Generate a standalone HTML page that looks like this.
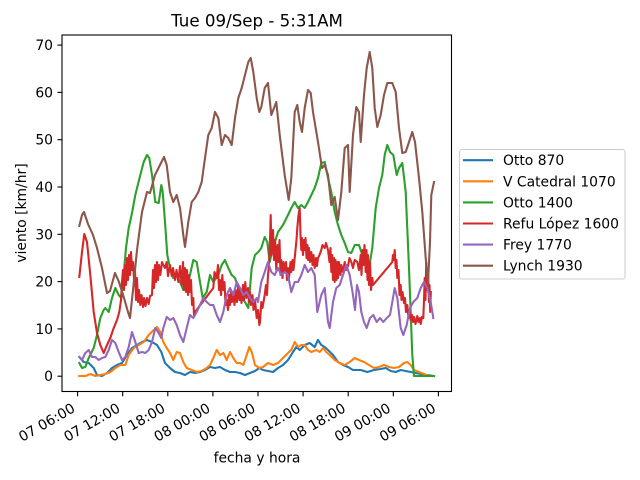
<!DOCTYPE html>
<html><head><meta charset="utf-8"><style>
html,body{margin:0;padding:0;background:#fff;}
svg{display:block;font-family:"DejaVu Sans","Liberation Sans",sans-serif;}
</style></head><body>
<svg width="640" height="480" viewBox="0 0 640 480" xmlns="http://www.w3.org/2000/svg">
<rect width="640" height="480" fill="#fff"/>
<defs><clipPath id="c"><rect x="62" y="35" width="390" height="357"/></clipPath></defs>
<g clip-path="url(#c)" fill="none" stroke-width="2.1" stroke-linejoin="round" stroke-linecap="square">
<polyline stroke="#1f77b4" points="79.3,357 83.7,362 88.7,363 93.7,368 97,375 102,376 107,373 112,368 117,365 122,363 127,355 132,348 137,345 142,342 147,340 152,342 157,345 161.3,352 165,363 170,368 175,372 180,373 185,375 190,372 195,373 200,372 205,370 210,367 215,368 220,367 225,370 230,372 235,372 240,373 245,375 250,373 255,371 259.3,368 263,370 268,371 273,372 278,368 283,365 288,360 293,352 296.3,347 299.7,350 304.7,345 309.7,343 314.7,347 318,340 321.3,345 324.7,347 328,350 333,355 338,362 343,365 348,367 353,370 360.7,370 367.3,372 374,370 380.7,369 385.7,368 390.7,371 395.7,372 400.7,370 405.7,371 410.7,372 415.7,373 420.7,374 427.3,375 434,376"/>
<polyline stroke="#ff7f0e" points="79.3,376 85.3,376 90.3,374 95.3,376 100.3,375 105.3,374 110.3,372 115.3,368 120.3,365 125.3,365 128.7,355 133.7,348 138.7,345 143.7,342 148.7,335 153.7,330 157,327 160.3,332 163.3,342 166.7,348 170,353 173.3,360 176.7,352 180,353 183.3,362 186.7,368 191.7,370 196.7,372 201.7,371 206.7,368 210,365 213.3,358 216.7,350 220,355 223.3,353 226.7,360 230,352 233.3,358 236.7,363 240,363 243.3,365 246.7,355 249.3,347 251.7,352 255,365 259.3,368 263,367 268,363 273,365 278,363 283,358 288,353 291.3,350 294.7,342 298,347 301.3,345 304.7,345 308,350 311.3,352 316.3,350 319.7,352 323,348 326.3,352 329.7,355 334.7,360 339.7,363 344.7,365 349.7,362 354.7,358 359,360 364,362 369,365 374,368 379,367 384,365 389,367 394,368 399,367 404,363 407.3,362 410.7,365 414,370 419,372 424,374 429,376 434,376"/>
<polyline stroke="#2ca02c" points="79.3,363 82,368 85.3,367 88.7,358 93.7,348 97,335 100.3,318 103.7,310 105.3,308 108.7,312 112,298 115.3,288 118.7,295 121.3,298 123.7,275 126,248 128.7,228 132,213 135.3,195 140.3,175 143.7,162 147,155 149.3,158 152,175 155.3,202 158.7,203 161.3,185 162.7,192 165,222 167.3,255 170,268 173.3,278 176.7,275 180,282 183.3,290 186.7,288 190,275 193.3,260 196.7,262 200,282 202.7,298 206.7,292 210,275 213.3,282 218.3,275 221.7,265 225,260 228.3,268 231.7,275 235,278 238.3,288 241.7,298 245,302 248.3,308 251.7,268 255,255 258.3,252 261.3,248 264.7,237 267.3,242 269.7,262 273,248 278,232 283,225 288,215 291.3,208 294.7,202 298,208 301.3,205 304.7,208 308,202 311.3,195 314.7,188 318,178 321.3,163 324.7,162 328,178 331.3,192 334.7,212 338,225 341.3,235 344.7,243 348,252 351.3,253 354.7,245 359,245 362.3,255 366.7,265 369,268 372.3,248 375.7,208 379,188 382.3,175 384.7,155 387.3,145 390,152 393.3,155 396.7,175 399,168 402.3,163 405.7,192 409,268 412.3,355 414,376 434,376"/>
<polyline stroke="#d62728" points="79.3,277 82,252 84.3,234 87,242 90.3,275 93.7,312 97,333 100.3,345 103.7,353 107,345 110.3,338 113.7,328 117,320 119.3,312 121,300 122,282 123,270 124,290 125,265 126,285 127,258 128,280 129,255 130,275 131,252 132,270 133,262 134,280 135,270 136,300 137,278 138,302 139,290 140.3,305 141.5,295 143,307 144,298 145.5,306 147,298 148.7,304 150,296 152,295 153,270 154,288 155,265 156,282 157,262 158,280 159,265 160.3,275 162,262 163.3,265 165,268 166.7,262 168,276 170,265 171.7,276 173,268 175,280 176.5,270 178.3,282 180,266 181.7,285 183,262 184,290 185,268 186,292 187,270 188,295 189,275 190,292 191,280 192,305 193.3,298 194,315 195,312 213.3,288 214.5,272 216.7,278 218,265 219,290 220,280 221,295 222.3,275 223.3,290 224.5,282 225.5,305 226.7,300 228,310 229,295 230,305 231,290 232,302 233.3,292 234.5,305 235.7,290 237,302 238.3,285 239.5,300 240.5,292 241.5,303 243,285 244,300 245.3,282 246.5,298 248,288 249,302 250,292 251,305 252.5,295 253.5,310 255,300 256.7,318 258,310 259.3,325 260,322 261.3,302 262.5,308 264.7,295 266,285 267,295 268,275 269,265 270,240 270.7,215 271.5,255 272,245 273,230 274,260 275,240 276.3,270 277.5,245 278.7,262 279.5,240 280.5,275 281.3,260 282.5,278 283.5,262 284.7,272 286,262 287,280 288,268 289,278 290.5,262 291.3,272 292.5,260 293.5,270 294.7,258 295.5,250 296.5,240 297.3,228 298.5,215 299.7,208 300.5,235 301.3,250 302,238 303,255 304,240 304.7,250 305.5,238 306.5,258 307.5,245 308,260 309,248 310,262 311.3,252 312.5,265 313.5,255 314.7,268 316,258 317,266 318,258 319.5,255 321.3,250 322.5,245 324.7,248 326,243 328,250 329.5,262 330.5,248 331.3,272 332.2,255 333,280 334,258 334.7,282 335.5,260 336.5,280 337.5,262 338,278 339,262 340.5,275 341.3,265 343,272 344.7,262 346,270 348,266 349.5,258 351.3,262 353,268 354.7,260 357.3,262 359,270 360.7,255 361.5,275 362.5,250 363.3,265 364.5,245 365.7,272 366.5,250 367.5,280 368,255 369,285 370,262 371,290 372.3,278 373,285 392.3,262 393,255 394,260 394.7,250 395.7,268 396.5,260 397.3,278 398.5,270 399.5,295 400.7,285 401.5,300 402.5,292 404,303 405,298 406,312 407.3,305 408.5,318 409.5,310 410.7,320 412,315 413,322 414,317 415.5,324 417.3,316 418.5,322 420,318 420.7,324 422,317 423.3,318 424,300 424.7,278 425.5,300 426.2,262 427,290 428,270 429,302 429.5,285 430.2,312 430.8,292"/>
<polyline stroke="#9467bd" points="79.3,357 82,360 85.3,353 88.7,350 92,357 95.3,357 98.7,360 102,358 105.3,357 108.7,350 112,340 115.3,343 118.7,352 122,360 125.3,357 128.7,347 132,332 135.3,342 138.7,353 142,352 145.3,353 148.7,350 152,342 155.3,328 158.7,333 161.3,338 163.3,328 166.7,317 170,320 173.3,318 176.7,325 180,335 183.3,342 186.7,328 190,315 193.3,318 196.7,312 200,305 203.3,298 206.7,302 210,305 213.3,305 216.7,315 220,322 223.3,312 226.7,295 230,288 233.3,295 236.7,282 240,288 243.3,295 246.7,292 250,298 253.3,302 256.7,298 258,302 261.3,282 264.7,272 268,262 271.3,272 274.7,275 278,268 281.3,275 284.7,272 288,275 291.3,292 294.7,282 298,282 301.3,275 304.7,265 308,272 311.3,268 314.7,275 317.3,312 321.3,295 324.7,288 328,322 329.7,328 333,302 336.3,288 339.7,285 343,275 346.3,265 349.7,275 353,295 355,310 357,285 359,292 361.3,312 364,322 366.7,328 370,318 373.3,315 376.7,322 380,318 383.3,322 386.7,318 390,315 392.3,302 394.7,288 397.3,298 400.7,328 403.3,335 406.7,325 410,308 413.3,302 417.3,298 420.7,288 424,282 427.3,288 430.7,302 433.3,318"/>
<polyline stroke="#8c564b" points="79.3,226 82,215 84,212 88,224 93,235 97,248 102,268 107,293 110,291 115,273 119,282 124,298 128,312 130,318 133,290 137,250 142,212 147,192 150,193 155,175 160,165 164,157 166.7,165 170,192 173.3,202 176.7,195 180,208 183.3,235 185,247 188.3,222 191.7,202 195,198 198.3,192 201.7,182 205,158 208.3,135 211.7,128 215,112 218.3,118 221.7,145 225,135 228.3,138 231.7,145 235,118 238.3,98 241.7,88 245,75 248.3,62 250.7,58 253.3,72 256.7,98 259.3,112 261.3,107 264.7,88 268,83 271.3,115 276.3,102 279.7,135 284.7,175 288.7,200 291.3,178 294.7,112 297.3,105 299.7,122 302,132 304.7,108 308,90 310.7,93 313,112 318,142 322,168 324.7,165 328,175 331.3,205 334.7,197 338,220 341.3,192 344.7,148 348,145 349.7,192 353,135 356.3,107 359,112 360.7,142 364,95 366.7,68 369.7,52 372.3,68 374.7,108 377.3,127 380.7,115 384,95 387.3,83 392.3,83 395.7,92 399,128 402.3,153 405.7,152 409,142 412.3,132 415,142 419,178 422.3,212 425.7,258 428,283 430,242 431.3,195 434,182"/>
</g>
<rect x="62" y="35" width="389.5" height="356.5" fill="none" stroke="#000" stroke-width="1.1"/>
<g stroke="#000" stroke-width="1.1">
<line x1="57.5" x2="62" y1="376.2" y2="376.2"/><line x1="57.5" x2="62" y1="328.9" y2="328.9"/><line x1="57.5" x2="62" y1="281.6" y2="281.6"/><line x1="57.5" x2="62" y1="234.3" y2="234.3"/><line x1="57.5" x2="62" y1="187" y2="187"/><line x1="57.5" x2="62" y1="139.7" y2="139.7"/><line x1="57.5" x2="62" y1="92.4" y2="92.4"/><line x1="57.5" x2="62" y1="45.1" y2="45.1"/>
<line x1="77.6" x2="77.6" y1="391.5" y2="396.3"/><line x1="122.7" x2="122.7" y1="391.5" y2="396.3"/><line x1="167.8" x2="167.8" y1="391.5" y2="396.3"/><line x1="212.9" x2="212.9" y1="391.5" y2="396.3"/><line x1="258" x2="258" y1="391.5" y2="396.3"/><line x1="303.1" x2="303.1" y1="391.5" y2="396.3"/><line x1="348.2" x2="348.2" y1="391.5" y2="396.3"/><line x1="393.3" x2="393.3" y1="391.5" y2="396.3"/><line x1="438.4" x2="438.4" y1="391.5" y2="396.3"/>
</g>
<g font-size="13.89" fill="#000" text-anchor="end">
<text x="53" y="381.2">0</text><text x="53" y="333.9">10</text><text x="53" y="286.6">20</text><text x="53" y="239.3">30</text><text x="53" y="192">40</text><text x="53" y="144.7">50</text><text x="53" y="97.4">60</text><text x="53" y="50.1">70</text>
<text transform="translate(76,411) rotate(-30)">07 06:00</text>
<text transform="translate(121.1,411) rotate(-30)">07 12:00</text>
<text transform="translate(166.2,411) rotate(-30)">07 18:00</text>
<text transform="translate(211.3,411) rotate(-30)">08 00:00</text>
<text transform="translate(256.4,411) rotate(-30)">08 06:00</text>
<text transform="translate(301.5,411) rotate(-30)">08 12:00</text>
<text transform="translate(346.6,411) rotate(-30)">08 18:00</text>
<text transform="translate(391.7,411) rotate(-30)">09 00:00</text>
<text transform="translate(436.8,411) rotate(-30)">09 06:00</text>
</g>
<text x="257" y="462.3" font-size="13.89" text-anchor="middle">fecha y hora</text>
<text transform="translate(26,213) rotate(-90)" font-size="13.89" text-anchor="middle">viento [km/hr]</text>
<text x="257" y="26.5" font-size="16.67" text-anchor="middle">Tue 09/Sep - 5:31AM</text>
<rect x="459.5" y="149.5" width="165.5" height="129.5" rx="2.5" fill="#fff" fill-opacity="0.8" stroke="#cccccc" stroke-width="1"/>
<g stroke-width="2.1" stroke-linecap="square">
<line x1="464" x2="492" y1="160.2" y2="160.2" stroke="#1f77b4"/>
<line x1="464" x2="492" y1="181.3" y2="181.3" stroke="#ff7f0e"/>
<line x1="464" x2="492" y1="202.4" y2="202.4" stroke="#2ca02c"/>
<line x1="464" x2="492" y1="223.5" y2="223.5" stroke="#d62728"/>
<line x1="464" x2="492" y1="244.6" y2="244.6" stroke="#9467bd"/>
<line x1="464" x2="492" y1="265.7" y2="265.7" stroke="#8c564b"/>
</g>
<g font-size="13.89" fill="#000">
<text x="503" y="165.2">Otto 870</text>
<text x="503" y="186.3">V Catedral 1070</text>
<text x="503" y="207.4">Otto 1400</text>
<text x="503" y="228.5">Refu López 1600</text>
<text x="503" y="249.6">Frey 1770</text>
<text x="503" y="270.7">Lynch 1930</text>
</g>
</svg>
</body></html>
